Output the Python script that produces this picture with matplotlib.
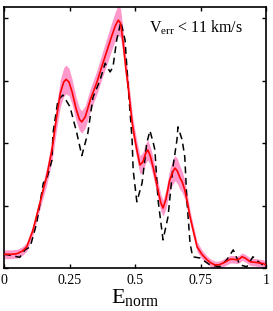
import matplotlib
matplotlib.use("Agg")
import matplotlib.pyplot as plt
import numpy as np

plt.rcParams['font.family'] = ['Liberation Serif', 'DejaVu Serif']
plt.rcParams['mathtext.fontset'] = 'custom'
plt.rcParams['mathtext.rm'] = 'Liberation Serif'
plt.rcParams['mathtext.it'] = 'Liberation Serif:italic'

# Smoothed distribution (red) with uncertainty (pink band)
red_x = [0.0, 0.03, 0.05, 0.07, 0.087, 0.11, 0.137, 0.164, 0.183, 0.2, 0.215, 0.228, 0.237,
         0.248, 0.26, 0.275, 0.288, 0.297, 0.31, 0.33, 0.355, 0.375, 0.39, 0.41, 0.425, 0.436,
         0.445, 0.455, 0.465, 0.474, 0.49, 0.5, 0.507, 0.519, 0.53, 0.54, 0.549, 0.558, 0.57,
         0.585, 0.598, 0.607, 0.618, 0.632, 0.645, 0.653, 0.662, 0.67, 0.68, 0.69, 0.7, 0.71,
         0.725, 0.737, 0.755, 0.775, 0.79, 0.805, 0.82, 0.837, 0.85, 0.863, 0.877, 0.89, 0.9,
         0.908, 0.92, 0.94, 0.96, 0.977, 0.99, 1.0]
red_y = [0.22, 0.22, 0.23, 0.27, 0.34, 0.6, 1.04, 1.49, 1.89, 2.4, 2.8, 2.98, 3.02,
         2.98, 2.82, 2.55, 2.38, 2.34, 2.42, 2.7, 2.98, 3.25, 3.44, 3.7, 3.88, 3.97,
         3.92, 3.6, 3.2, 2.9, 2.3, 2.05, 1.89, 1.65, 1.7, 1.83, 1.89, 1.8, 1.6,
         1.3, 1.05, 0.96, 1.1, 1.4, 1.55, 1.6, 1.55, 1.46, 1.38, 1.25, 1.05, 0.82,
         0.55, 0.34, 0.22, 0.13, 0.08, 0.05, 0.05, 0.08, 0.11, 0.14, 0.14, 0.13, 0.15,
         0.18, 0.16, 0.1, 0.09, 0.08, 0.07, 0.05]
red_err = [0.07, 0.07, 0.07, 0.07, 0.07, 0.08, 0.1, 0.14, 0.18, 0.2, 0.22, 0.23, 0.23,
           0.22, 0.2, 0.19, 0.18, 0.18, 0.18, 0.18, 0.19, 0.2, 0.21, 0.22, 0.23, 0.24,
           0.23, 0.2, 0.18, 0.16, 0.15, 0.15, 0.15, 0.15, 0.15, 0.16, 0.16, 0.15, 0.15,
           0.14, 0.13, 0.13, 0.15, 0.17, 0.2, 0.2, 0.2, 0.19, 0.17, 0.15, 0.12, 0.1,
           0.09, 0.08, 0.07, 0.06, 0.06, 0.06, 0.06, 0.06, 0.06, 0.06, 0.06, 0.06, 0.06,
           0.06, 0.06, 0.06, 0.06, 0.06, 0.06, 0.06]

# Comparison distribution (black dashed)
blk_x = [0.0, 0.03, 0.05, 0.06, 0.08, 0.1, 0.125, 0.15, 0.164, 0.183, 0.187, 0.206, 0.225,
         0.252, 0.278, 0.297, 0.32, 0.34, 0.366, 0.386, 0.405, 0.416, 0.43, 0.446, 0.462,
         0.473, 0.489, 0.493, 0.507, 0.527, 0.545, 0.557, 0.57, 0.576, 0.588, 0.607, 0.626,
         0.645, 0.66, 0.664, 0.68, 0.69, 0.698, 0.71, 0.72, 0.748, 0.786, 0.824, 0.85,
         0.875, 0.9, 0.927, 0.95, 0.977, 1.0]
blk_y = [0.22, 0.2, 0.18, 0.17, 0.29, 0.34, 0.72, 1.36, 1.44, 1.73, 2.16, 2.69, 2.77,
         2.58, 2.16, 1.8, 2.16, 2.74, 3.0, 3.28, 3.14, 3.22, 3.65, 3.94, 3.65,
         2.96, 2.05, 1.57, 1.06, 1.36, 2.0, 2.2, 2.0, 1.89, 1.09, 0.45, 0.82,
         1.62, 2.05, 2.26, 2.05, 1.78, 1.09, 0.4, 0.18, 0.16, 0.05, 0.02, 0.13,
         0.29, 0.05, 0.02, 0.18, 0.08, 0.02]

xticks = [0, 0.25, 0.5, 0.75, 1]
xticklabels = ['0', '0.25', '0.5', '0.75', '1']
yticks = [0, 1, 2, 3, 4]

fig = plt.figure(figsize=(2.73, 3.11), dpi=100)
ax = fig.add_axes([4/273, 43/311, 262/273, 261/311])

rx = np.array(red_x); ry = np.array(red_y); re = np.array(red_err)
ax.fill_between(rx, ry - re, ry + re, color='#ff99cc', lw=0, zorder=1)
ax.plot(rx, ry, color='#ff0000', lw=1.2, zorder=3)
ax.plot(blk_x, blk_y, color='black', lw=1.1, ls=(0, (4.5, 3)), zorder=2)

ax.set_xlim(0, 1)
ax.set_ylim(0, 4.18)
ax.set_xticks(xticks)
ax.set_xticklabels(xticklabels, fontsize=10)
ax.set_yticks(yticks)
ax.set_yticklabels([])
ax.tick_params(direction='in', length=3, width=1, top=True, right=True, pad=4)
for s in ax.spines.values():
    s.set_linewidth(1.2)

ax.set_xlabel(r'$\mathrm{E}_{\mathrm{norm}}$', fontsize=16, labelpad=0)
ax.text(0.555, 0.92, r'$\mathrm{V}_{\mathrm{err}}$ < 11 km/s', transform=ax.transAxes,
        fontsize=11.5, ha='left', va='center')

fig.savefig('out.png', dpi=100)
